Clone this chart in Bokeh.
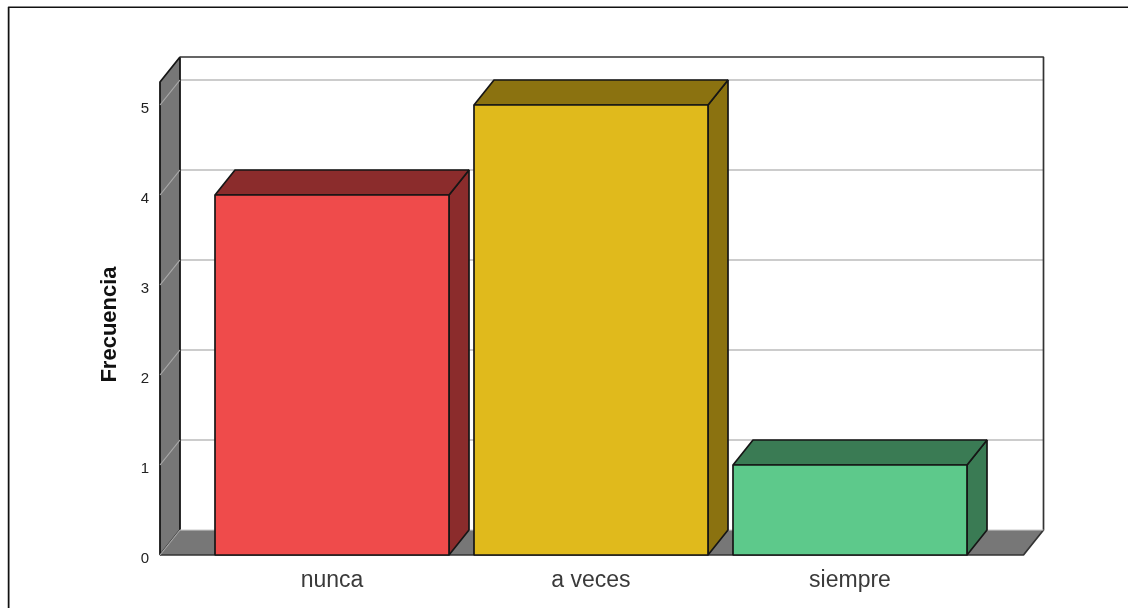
from bokeh.plotting import figure
from bokeh.embed import file_html
from bokeh.resources import INLINE
from bokeh.models import Range1d, LinearAxis, FixedTicker
from bokeh.core.properties import value
import math

categories = ["nunca", "a veces", "siempre"]
frecuencia = [4, 5, 1]
y_ticks = [0, 1, 2, 3, 4, 5]
front_colors = ["#EF4B4B", "#E0BA1C", "#5DC98B"]
side_colors = ["#8B2C2C", "#8B7210", "#3A7B54"]

# Screen layout (page pixels)
LEFT, TOP, W, H = 7, 6, 1121, 602
PX_X0, PX_PER_CAT = 331.5, 259.0
PX_Y0, PX_PER_UNIT = 554.5, 90.0
DX = 20.0 / PX_PER_CAT
DY = 25.0 / PX_PER_UNIT
BAR_W = 234.0 / PX_PER_CAT
INK = "#161616"
WALL = "#777777"
GRID = "#cccccc"
LABEL_SHIFT = 2.5 / PX_PER_UNIT


def X(px):
    return (px - PX_X0) / PX_PER_CAT


def Y(py):
    return (PX_Y0 - py) / PX_PER_UNIT


p = figure(
    width=W, height=H, output_backend="svg", toolbar_location=None,
    x_range=Range1d(X(LEFT), X(LEFT + W)), y_range=Range1d(Y(TOP + H), Y(TOP)),
    x_axis_type=None, y_axis_type=None, min_border=0,
    styles={"position": "fixed", "left": f"{LEFT}px", "top": f"{TOP}px"},
)
p.outline_line_color = None
p.background_fill_color = "white"
p.border_fill_color = "white"
p.grid.visible = False

x_left, x_right = X(159.5), X(1023)
y_max = Y(81.5)

# outer picture frame (top and left edges)
p.line([X(8), X(8), X(1128)], [Y(608), Y(6.5), Y(6.5)], line_color="#111111", line_width=2)

# back wall grid lines
for t in y_ticks[1:]:
    p.line([x_left + DX, x_right + DX], [t + DY, t + DY], line_color=GRID, line_width=2)

# left wall and floor
p.patch([x_left, x_left + DX, x_left + DX, x_left],
        [0, DY, y_max + DY, y_max], fill_color=WALL, line_color=INK, line_width=1.8)
p.patch([x_left, x_left + DX, x_right + DX, x_right],
        [0, DY, DY, 0], fill_color=WALL, line_color=None)
# wall outline, back edge
p.line([x_left + DX, x_right + DX, x_right + DX, x_right, x_left],
       [y_max + DY, y_max + DY, DY, 0, 0], line_color="#333333", line_width=1.7)
p.line([x_left + DX, x_right + DX], [DY, DY], line_color=GRID, line_width=1.5, line_alpha=0.7)
# grid lines continuing across the left wall
for t in y_ticks:
    p.line([x_left, x_left + DX], [t, t + DY], line_color="#aaaaaa", line_width=1.2)

# bars
xs = list(range(len(categories)))
for i, v in zip(xs, frecuencia):
    l, r = i - BAR_W / 2, i + BAR_W / 2
    p.patch([r, r + DX, r + DX, r], [0, DY, v + DY, v], fill_color=side_colors[i],
            line_color=INK, line_width=1.7)
    p.patch([l, l + DX, r + DX, r], [v, v + DY, v + DY, v], fill_color=side_colors[i],
            line_color=INK, line_width=1.7)
p.vbar(x=xs, top=frecuencia, bottom=0, width=BAR_W, fill_color=front_colors,
       line_color=INK, line_width=1.7)

# axes (tick labels sit slightly below their grid level in the reference)
label_ticks = [t - LABEL_SHIFT for t in y_ticks]
yax = LinearAxis(ticker=FixedTicker(ticks=label_ticks), fixed_location=x_left,
                 major_label_overrides={k: str(t) for k, t in zip(label_ticks, y_ticks)})
yax.axis_line_color = None
yax.major_tick_line_color = None
yax.minor_tick_line_color = None
yax.major_label_text_font = "Liberation Sans"
yax.major_label_text_font_size = "15px"
yax.major_label_text_color = "#222222"
yax.major_label_standoff = 5
p.add_layout(yax, "left")

xax = LinearAxis(ticker=FixedTicker(ticks=xs), fixed_location=0,
                 major_label_overrides={i: c for i, c in zip(xs, categories)})
xax.axis_line_color = None
xax.major_tick_line_color = None
xax.minor_tick_line_color = None
xax.major_label_text_font = "Liberation Sans"
xax.major_label_text_font_size = "23px"
xax.major_label_text_color = "#3a3a3a"
xax.major_label_standoff = 5
p.add_layout(xax, "below")

p.text(x=[X(108)], y=[Y(324)], text=["Frecuencia"], angle=math.pi / 2,
       text_font=value("Liberation Sans"), text_font_style="bold",
       text_font_size="22px", text_color="#111111",
       text_align="center", text_baseline="middle")

open("out.html", "w").write(file_html(p, INLINE))
